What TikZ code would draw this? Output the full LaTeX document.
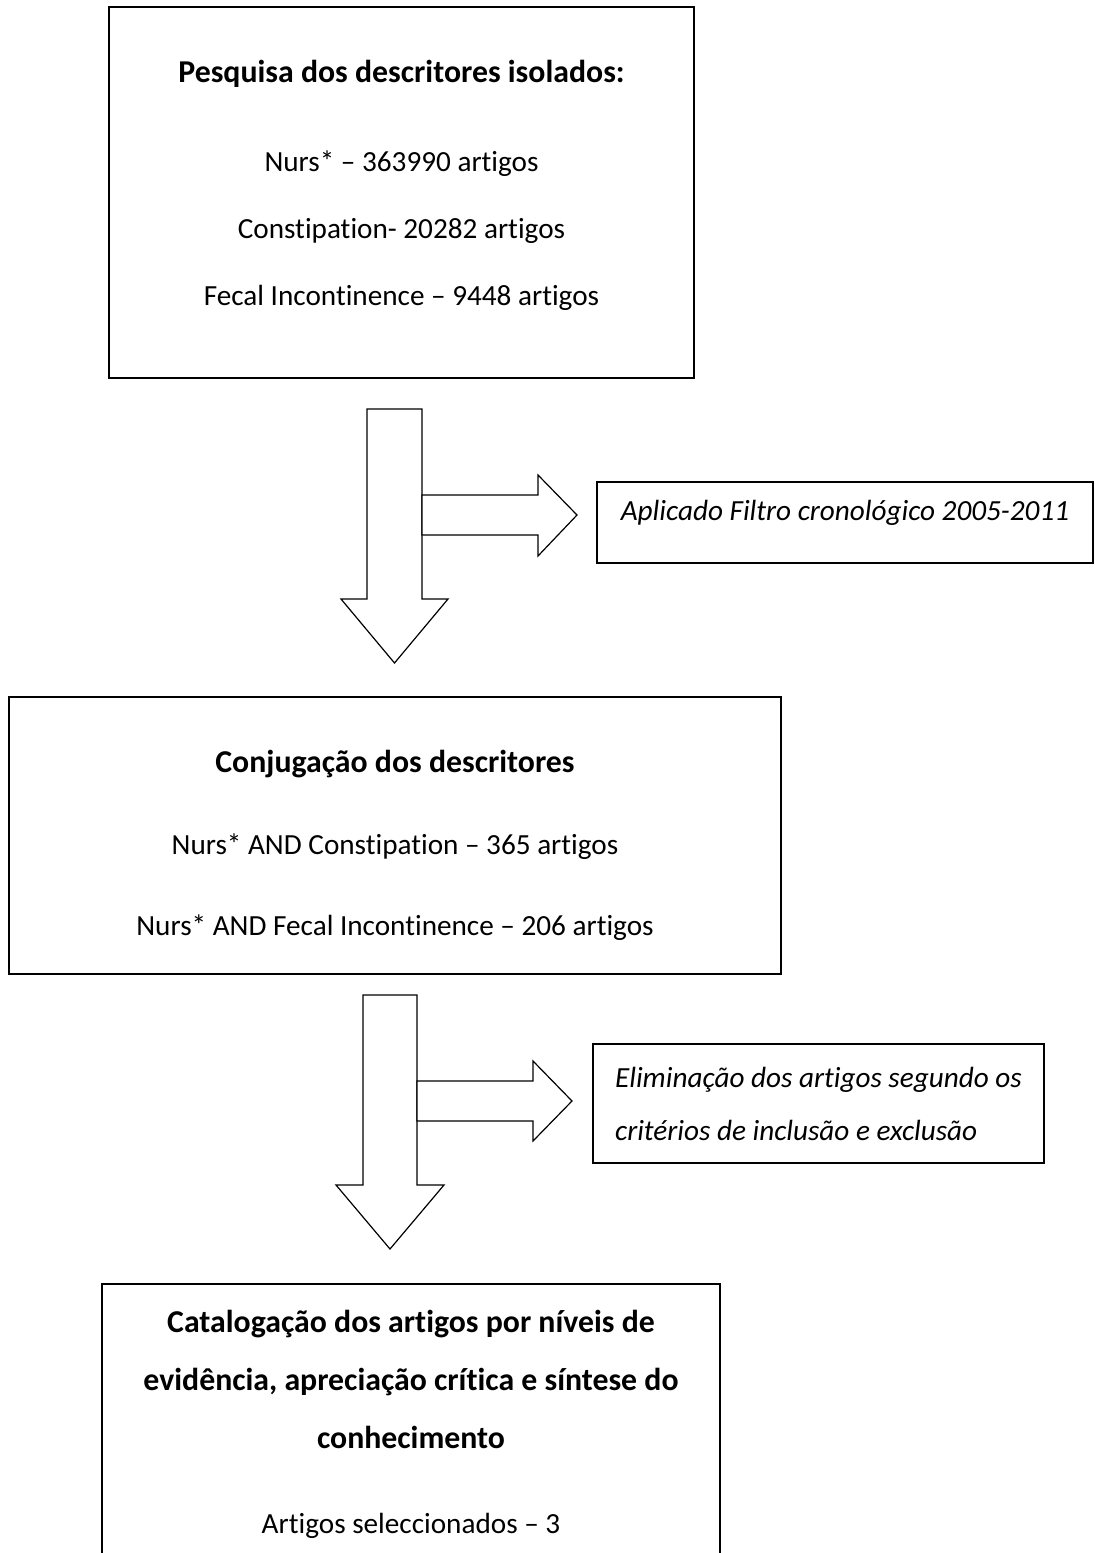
\documentclass[tikz,border=0pt]{standalone}
\usepackage{fontspec}
\setmainfont{Carlito}[Ligatures={TeX,NoCommon}]
\newcommand{\bodysize}{\fontsize{14.6pt}{17.5pt}\selectfont}
\newcommand{\headsize}{\fontsize{15.9pt}{17.5pt}\selectfont\bfseries}
\tikzstyle{searchbox} = [rectangle,
draw=black,
line width=0.8pt,
text centered,
align=center,
font=\bodysize]
\tikzstyle{filterbox} = [rectangle,
draw=black,
line width=0.8pt,
align=left,
font=\bodysize\itshape]
\tikzstyle{blockarrow} = [draw=black, line width=0.6pt, fill=white, line join=miter]

\begin{document}
\begin{tikzpicture}[x=0.5pt, y=-0.5pt]
			\useasboundingbox (0,0) rectangle (1095,1553);
			\clip (0,0) rectangle (1095,1553);
			\node (isolados) [searchbox, minimum width=292.5pt, minimum height=185.5pt, text depth=10pt] at (401.5,192.5) {{\headsize Pesquisa dos descritores isolados:}\\[27pt] Nurs* – 363990 artigos\\[16pt] Constipation- 20282 artigos\\[16pt] Fecal Incontinence – 9448 artigos};
			\node (cronologico) [filterbox, minimum width=248pt, minimum height=40.5pt, text depth=12pt] at (845,522.5) {Aplicado Filtro cronológico 2005-2011};
			\node (conjugacao) [searchbox, minimum width=386pt, minimum height=138.5pt, text height=102pt] at (395,835.5) {{\headsize Conjugação dos descritores}\\[23.5pt] Nurs* AND Constipation – 365 artigos\\[23pt] Nurs* AND Fecal Incontinence – 206 artigos};
			\node (eliminacao) [filterbox, minimum width=225.5pt, minimum height=59.5pt] at (818.5,1103.5) {Eliminação dos artigos segundo os\\[9pt] critérios de inclusão e exclusão};
			\node (catalogacao) [searchbox, minimum width=309pt, minimum height=140pt] at (411,1424) {{\headsize Catalogação dos artigos por níveis de}\\[11.5pt]{\headsize evidência, apreciação crítica e síntese do}\\[11.5pt]{\headsize conhecimento}\\[25pt] Artigos seleccionados – 3};

			% block arrows
			\draw[blockarrow] (367,409) -- (422,409) -- (422,599) -- (448,599) -- (394.5,663) -- (341,599) -- (367,599) -- cycle;
			\draw[blockarrow] (422,495) -- (538,495) -- (538,475) -- (577,515) -- (538,556) -- (538,535) -- (422,535) -- cycle;
			\draw[blockarrow] (363,995) -- (417,995) -- (417,1185) -- (444,1185) -- (390,1249) -- (336,1185) -- (363,1185) -- cycle;
			\draw[blockarrow] (417,1081) -- (533,1081) -- (533,1061) -- (572,1101) -- (533,1141) -- (533,1121) -- (417,1121) -- cycle;
		\end{tikzpicture}
\end{document}
